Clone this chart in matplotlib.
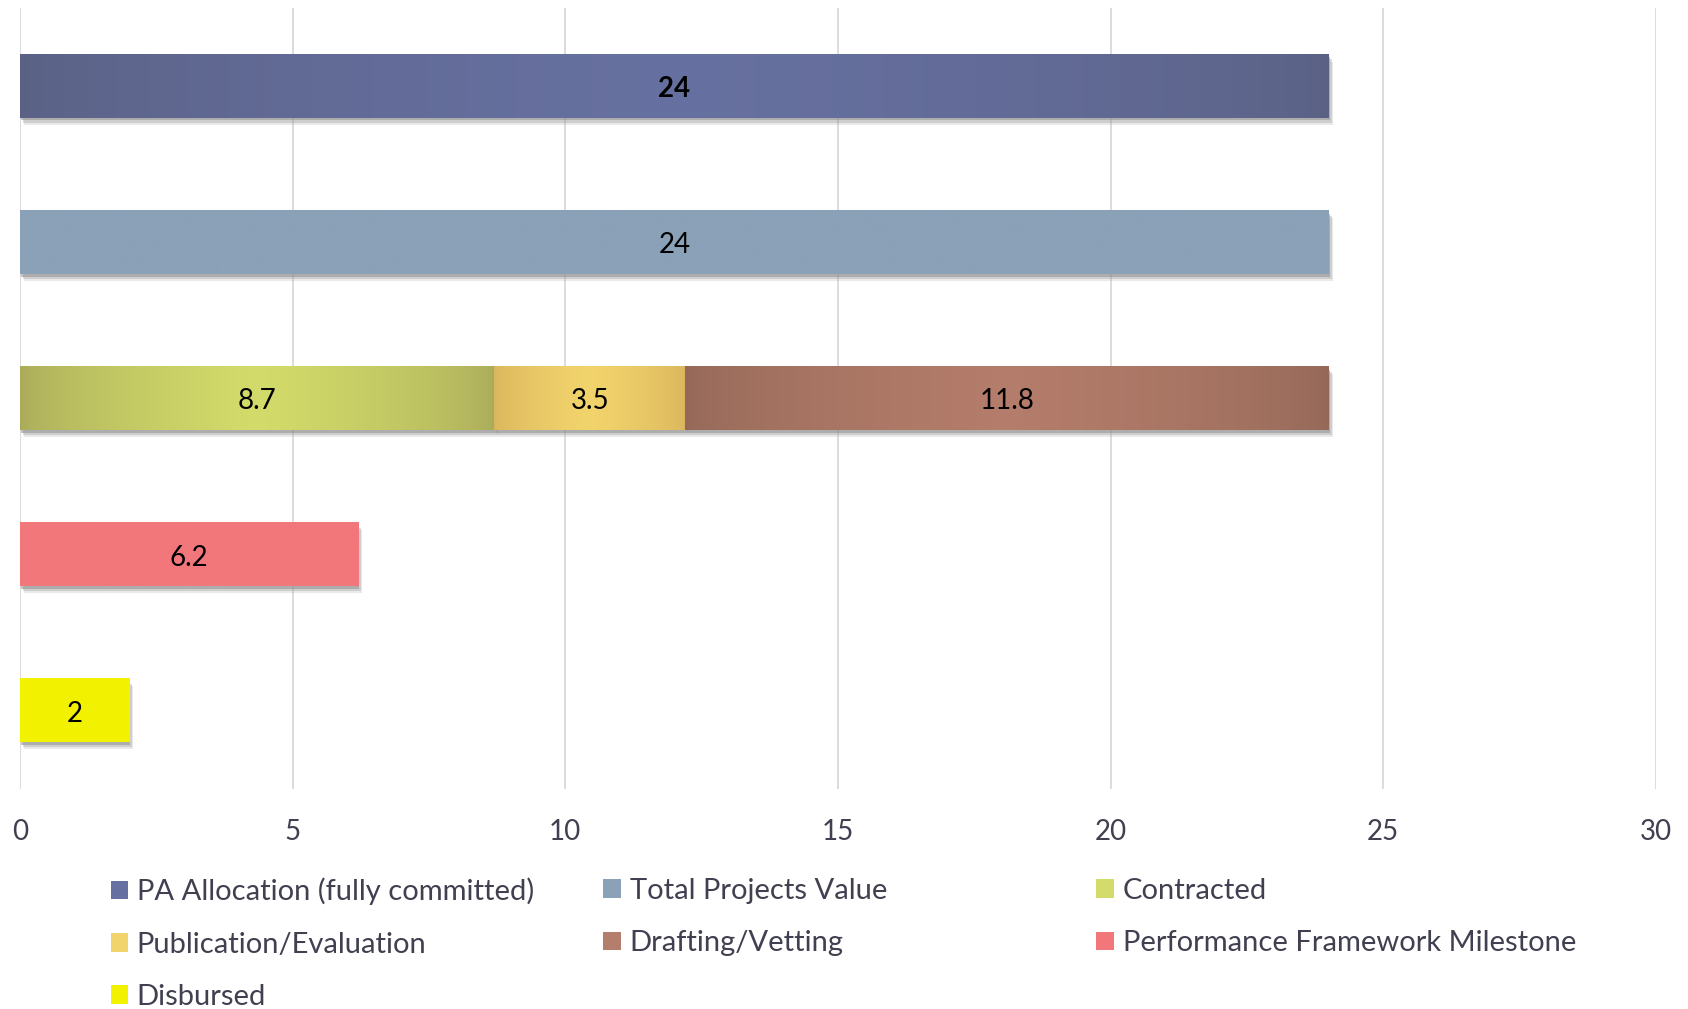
import numpy as np
import matplotlib
matplotlib.use('Agg')
import matplotlib.pyplot as plt
from matplotlib.patches import Patch
import matplotlib.patheffects as pe

plt.rcParams['font.family'] = ['Lato', 'DejaVu Sans']

# 数据
rows = ['PA Allocation', 'Total Projects', 'Pipeline', 'Performance Framework', 'Disbursed']
pa_allocation = [24]
total_projects = [24]
contracted = [8.7]
publication = [3.5]
drafting = [11.8]
performance = [6.2]
disbursed = [2]
x_ticks = [0, 5, 10, 15, 20, 25, 30]

names = ['PA Allocation (fully committed)', 'Total Projects Value', 'Contracted',
         'Publication/Evaluation', 'Drafting/Vetting', 'Performance Framework Milestone',
         'Disbursed']
# (边缘色, 中间色) 渐变
colors = {
    'PA Allocation (fully committed)': ('#5a6184', '#6771a1'),
    'Total Projects Value': ('#8aa1b8', '#8aa1b8'),
    'Contracted': ('#a9aa5a', '#d3dc6a'),
    'Publication/Evaluation': ('#d9b45c', '#f2d46c'),
    'Drafting/Vetting': ('#946858', '#b57d6b'),
    'Performance Framework Milestone': ('#f2777b', '#f2777b'),
    'Disbursed': ('#f2f200', '#f2f200'),
}
text_col = '#404050'

fig = plt.figure(figsize=(16.88, 10.09), dpi=100)
ax = fig.add_axes([0.0118, 0.218, 0.9692, 0.774])

y = np.arange(len(rows))
h = 0.404

# 阴影，叠几层模拟模糊
shadow = [pe.SimplePatchShadow(offset=(1, -2), shadow_rgbFace='#666666', alpha=0.4),
          pe.SimplePatchShadow(offset=(2, -3.5), shadow_rgbFace='#888888', alpha=0.3),
          pe.SimplePatchShadow(offset=(3, -5), shadow_rgbFace='#aaaaaa', alpha=0.25),
          pe.Normal()]


def grad_bar(ypos, width, left, name, bold=False):
    edge, mid = colors[name]
    bars = ax.barh(ypos, width, left=left, height=h, color=mid, zorder=3,
                   path_effects=shadow)
    e = np.array(matplotlib.colors.to_rgb(edge))
    m = np.array(matplotlib.colors.to_rgb(mid))
    t = np.linspace(0, 1, 256)
    w = (1 - np.abs(2 * t - 1)) ** 0.6
    img = e[None, :] + (m - e)[None, :] * w[:, None]
    for b in bars:
        x0, y0 = b.get_x(), b.get_y()
        ax.imshow(img[None, :, :], extent=(x0, x0 + b.get_width(), y0, y0 + b.get_height()),
                  aspect='auto', zorder=3.5, interpolation='bicubic')
    labels = ax.bar_label(bars, label_type='center', fontsize=20, color='black', zorder=5,
                          fontweight='bold' if bold else 'normal')
    for lab in labels:
        lab.set_y(lab.get_position()[1] - 2)
    return bars


grad_bar(y[0], pa_allocation, 0, names[0], bold=True)
grad_bar(y[1], total_projects, 0, names[1])
grad_bar(y[2], contracted, 0, names[2])
grad_bar(y[2], publication, contracted, names[3])
grad_bar(y[2], drafting, np.add(contracted, publication), names[4])
grad_bar(y[3], performance, 0, names[5])
grad_bar(y[4], disbursed, 0, names[6])

ax.set_xlim(0, 30)
ax.set_ylim(len(rows) - 0.5, -0.5)
ax.set_xticks(x_ticks)
ax.set_yticks([])
ax.grid(axis='x', color='#d9d9d9', linewidth=1.3, zorder=0)
ax.set_axisbelow(True)
for s in ax.spines.values():
    s.set_visible(False)
ax.tick_params(axis='x', length=0, pad=21.5, labelsize=20, labelcolor=text_col)

# 图例，三列等宽
cols = [[names[0], names[3], names[6]], [names[1], names[4]], [names[2], names[5]]]
col_x = [0.0655, 0.3575, 0.6495]
for cx, col in zip(col_x, cols):
    handles = [Patch(facecolor=colors[n][1], edgecolor='none') for n in col]
    leg = fig.legend(handles, col, loc='upper left', bbox_to_anchor=(cx, 0.130),
                     frameon=False, fontsize=21, labelcolor=text_col,
                     handlelength=0.6, handleheight=0.6, handletextpad=0.3,
                     labelspacing=0.9, borderpad=0, borderaxespad=0)

fig.savefig('out.png', dpi=100)
